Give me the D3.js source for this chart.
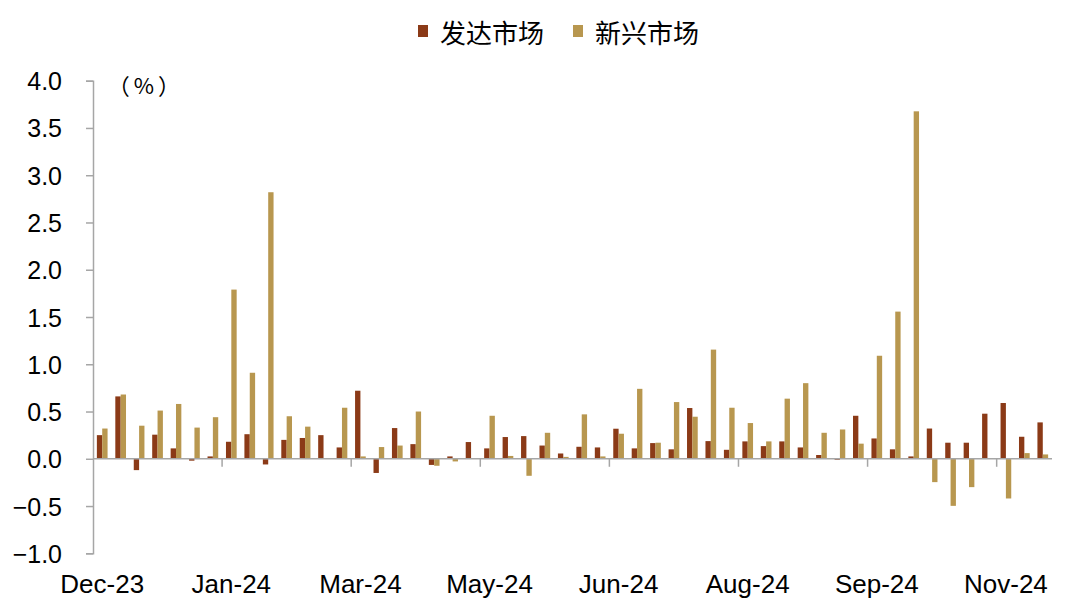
<!DOCTYPE html>
<html>
<head>
<meta charset="utf-8">
<script src="https://cdn.jsdelivr.net/npm/d3@7"></script>
<style>
  html, body { margin: 0; padding: 0; background: #fff; }
  svg { display: block; }
  .tick text { font-family: "Liberation Sans", Arial, sans-serif; }
</style>
</head>
<body>
<svg id="chart" width="1080" height="613"></svg>
<script>
// weekly observations
const weeks = [
  "2023-12-06", "2023-12-13", "2023-12-20", "2023-12-27",
  "2024-01-03", "2024-01-10", "2024-01-17", "2024-01-24", "2024-01-31",
  "2024-02-07", "2024-02-14", "2024-02-21", "2024-02-28",
  "2024-03-06", "2024-03-13", "2024-03-20", "2024-03-27",
  "2024-04-03", "2024-04-10", "2024-04-17", "2024-04-24",
  "2024-05-01", "2024-05-08", "2024-05-15", "2024-05-22", "2024-05-29",
  "2024-06-05", "2024-06-12", "2024-06-19", "2024-06-26",
  "2024-07-03", "2024-07-10", "2024-07-17", "2024-07-24", "2024-07-31",
  "2024-08-07", "2024-08-14", "2024-08-21", "2024-08-28",
  "2024-09-04", "2024-09-11", "2024-09-18", "2024-09-25",
  "2024-10-02", "2024-10-09", "2024-10-16", "2024-10-23", "2024-10-30",
  "2024-11-06", "2024-11-13", "2024-11-20", "2024-11-27"
];

// 发达市场
const developed = [
  0.25, 0.66, -0.12, 0.255, 0.11, -0.02, 0.025, 0.18, 0.26, -0.06,
  0.20, 0.22, 0.25, 0.12, 0.72, -0.15, 0.325, 0.155, -0.065, 0.025,
  0.177, 0.11, 0.23, 0.24, 0.14, 0.056, 0.127, 0.12, 0.318, 0.11,
  0.166, 0.10, 0.537, 0.187, 0.095, 0.184, 0.134, 0.184, 0.12, 0.04,
  -0.01, 0.455, 0.215, 0.10, 0.025, 0.32, 0.17, 0.17, 0.477, 0.59,
  0.233, 0.385
];

// 新兴市场
const emerging = [
  0.32, 0.68, 0.35, 0.51, 0.58, 0.33, 0.44, 1.79, 0.91, 2.82,
  0.45, 0.34, 0, 0.54, 0.025, 0.124, 0.14, 0.50, -0.074, -0.028,
  0, 0.455, 0.03, -0.18, 0.275, 0.02, 0.47, 0.025, 0.265, 0.74,
  0.17, 0.60, 0.445, 1.155, 0.54, 0.378, 0.184, 0.636, 0.80, 0.275,
  0.31, 0.16, 1.09, 1.557, 3.676, -0.247, -0.498, -0.30, 0, -0.42,
  0.06, 0.046
];

const seriesNames = ["发达市场", "新兴市场"];
const seriesColors = ["#8b3a17", "#b8974f"];
const yTicks = [-1, -0.5, 0, 0.5, 1, 1.5, 2, 2.5, 3, 3.5, 4];
const labelEvery = 7;

const svg = d3.select("#chart");
const margin = { top: 80.7, right: 28, bottom: 59.7, left: 93 };
const width = 1080, height = 613;

const x = d3.scaleBand()
  .domain(weeks)
  .range([margin.left, width - margin.right])
  .padding(0);

const xInner = d3.scaleBand()
  .domain(seriesNames)
  .range([x.bandwidth() * 0.21, x.bandwidth() * 0.79])
  .padding(0);

const y = d3.scaleLinear()
  .domain([-1, 4])
  .range([height - margin.bottom, margin.top]);

const parse = d3.timeParse("%Y-%m-%d");
const fmt = d3.timeFormat("%b-%y");

// bars
const rows = weeks.map((w, i) => ({ week: w, values: [developed[i], emerging[i]] }));

const groups = svg.append("g")
  .selectAll("g.week")
  .data(rows)
  .join("g")
    .attr("class", "week")
    .attr("transform", d => `translate(${x(d.week)},0)`);

groups.selectAll("rect")
  .data(d => d.values.map((v, k) => ({ name: seriesNames[k], value: v, k })))
  .join("rect")
    .attr("x", d => xInner(d.name))
    .attr("width", xInner.bandwidth())
    .attr("y", d => y(Math.max(0, d.value)))
    .attr("height", d => Math.abs(y(d.value) - y(0)))
    .attr("fill", d => seriesColors[d.k]);

// y axis
const yAxis = svg.append("g")
  .attr("transform", `translate(${margin.left},0)`)
  .call(d3.axisLeft(y).tickValues(yTicks).tickFormat(d3.format(".1f")).tickSize(7).tickPadding(24));
yAxis.select(".domain").attr("stroke", "#a6a6a6").attr("stroke-width", 1.5);
yAxis.selectAll(".tick line").attr("stroke", "#a6a6a6").attr("stroke-width", 1.5);
yAxis.selectAll(".tick text")
  .attr("fill", "#000")
  .style("font-size", "25px")
  .attr("dy", "0.36em");

// zero line with boundary ticks
const zeroY = y(0);
svg.append("line")
  .attr("x1", margin.left).attr("x2", width - margin.right)
  .attr("y1", zeroY).attr("y2", zeroY)
  .attr("stroke", "#a6a6a6").attr("stroke-width", 1.5);

const tickWeeks = weeks.filter((w, i) => i % labelEvery === 0 && i > 0);
svg.append("g").selectAll("line")
  .data(tickWeeks)
  .join("line")
    .attr("x1", d => x(d)).attr("x2", d => x(d))
    .attr("y1", zeroY).attr("y2", zeroY + 8)
    .attr("stroke", "#a6a6a6").attr("stroke-width", 1.5);

// x labels at the bottom
const xAxis = svg.append("g")
  .attr("transform", `translate(0,${height - margin.bottom})`)
  .call(d3.axisBottom(x)
    .tickValues(weeks.filter((w, i) => i % labelEvery === 0))
    .tickFormat(d => fmt(parse(d)))
    .tickSize(0)
    .tickPadding(21));
xAxis.select(".domain").remove();
xAxis.selectAll(".tick text")
  .attr("fill", "#000")
  .style("font-size", "26px");

// unit label
svg.append("text")
  .attr("x", 146).attr("y", 84)
  .attr("text-anchor", "middle")
  .attr("dominant-baseline", "central")
  .style("font-family", "'Noto Sans CJK SC', sans-serif")
  .style("font-size", "22px")
  .style("letter-spacing", "4px")
  .text("（%）");

// legend
const legend = svg.append("g")
  .selectAll("g")
  .data(seriesNames)
  .join("g")
    .attr("transform", (d, i) => `translate(${418 + i * 155},31)`);
legend.append("rect")
  .attr("x", 0).attr("y", -6)
  .attr("width", 10).attr("height", 12)
  .attr("fill", (d, i) => seriesColors[i]);
legend.append("text")
  .attr("x", 22).attr("y", 0)
  .attr("dominant-baseline", "central")
  .style("font-family", "'Noto Sans CJK SC', sans-serif")
  .style("font-size", "26px")
  .attr("fill", "#000")
  .text(d => d);
</script>
</body>
</html>
